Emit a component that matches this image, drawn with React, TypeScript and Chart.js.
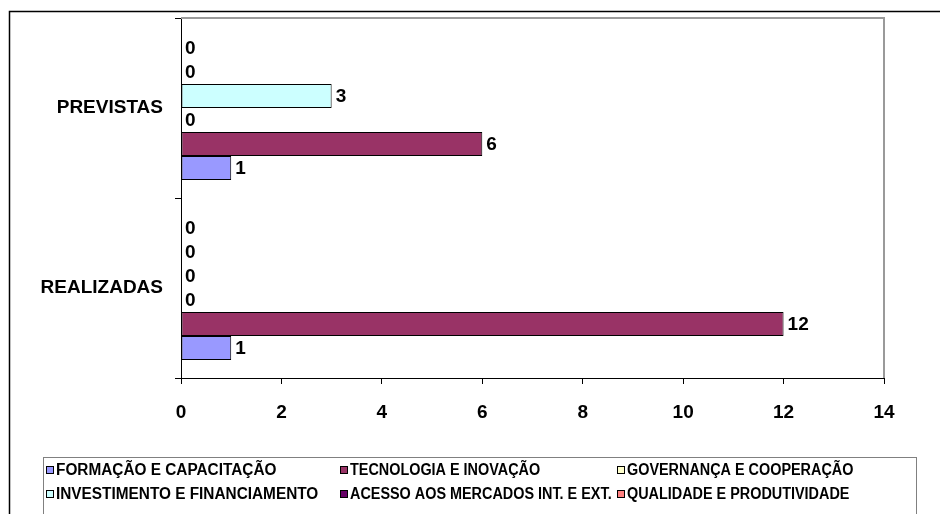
import React, { useEffect, useRef } from "react";
import { Chart, registerables } from "chart.js";

Chart.register(...registerables);

// Categories (top to bottom as drawn)
const categories = ["PREVISTAS", "REALIZADAS"];

// Series values, one per category [PREVISTAS, REALIZADAS]
const formacao = [1, 1];
const tecnologia = [6, 12];
const governanca = [0, 0];
const investimento = [3, 0];
const acesso = [0, 0];
const qualidade = [0, 0];

// Series labels (legend order)
const seriesLabels = [
  "FORMAÇÃO E CAPACITAÇÃO",
  "TECNOLOGIA E INOVAÇÃO",
  "GOVERNANÇA E COOPERAÇÃO",
  "INVESTIMENTO E FINANCIAMENTO",
  "ACESSO AOS MERCADOS INT. E EXT.",
  "QUALIDADE E PRODUTIVIDADE",
];
const seriesValues = [formacao, tecnologia, governanca, investimento, acesso, qualidade];
const seriesColors = ["#9999FF", "#993366", "#FFFFCC", "#CCFFFF", "#660066", "#FF8080"];

// Value axis ticks
const xMin = 0;
const xMax = 14;
const xStep = 2;

const FONT = "'Liberation Sans', Arial, sans-serif";

const framePlugin = {
  id: "frame",
  beforeDraw(chart: any) {
    const ctx = chart.ctx;
    ctx.save();
    ctx.fillStyle = "#FFFFFF";
    ctx.fillRect(0, 0, chart.width, chart.height);
    ctx.strokeStyle = "#000000";
    ctx.lineWidth = 1.5;
    ctx.strokeRect(9.5, 11.5, 1200, 1000);
    ctx.restore();
  },
  afterDraw(chart: any) {
    const ctx = chart.ctx;
    const a = chart.chartArea;
    ctx.save();
    // plot area top and right border (grey)
    ctx.strokeStyle = "#9A9A9A";
    ctx.lineWidth = 2;
    ctx.beginPath();
    ctx.moveTo(a.left, a.top);
    ctx.lineTo(a.right, a.top);
    ctx.lineTo(a.right, a.bottom);
    ctx.stroke();
    // legend box
    ctx.strokeStyle = "#808080";
    ctx.lineWidth = 1;
    ctx.strokeRect(43.5, 457.5, 873, 100);
    const colX = [46, 340, 617];
    const rowY = [470, 494];
    ctx.font = `bold 16px ${FONT}`;
    ctx.textBaseline = "middle";
    ctx.textAlign = "left";
    const ds = chart.data.datasets;
    const ordered = ds.slice().reverse();
    ordered.forEach((d: any, i: number) => {
      const x = colX[i % 3];
      const y = rowY[Math.floor(i / 3)];
      ctx.fillStyle = d.backgroundColor;
      ctx.fillRect(x + 0.5, y - 3.5, 7, 7);
      ctx.strokeStyle = "#000000";
      ctx.lineWidth = 1;
      ctx.strokeRect(x + 0.5, y - 3.5, 7, 7);
      ctx.fillStyle = "#000000";
      ctx.save();
      ctx.translate(x + 10, y + 1);
      ctx.scale(i % 3 === 0 ? 0.96 : 0.9, 1);
      ctx.fillText(d.label, 0, 0);
      ctx.restore();
    });
    ctx.restore();
  },
};

const labelPlugin = {
  id: "barLabels",
  afterDatasetsDraw(chart: any) {
    const ctx = chart.ctx;
    ctx.save();
    ctx.font = `bold 19px ${FONT}`;
    ctx.fillStyle = "#000000";
    ctx.textAlign = "left";
    ctx.textBaseline = "middle";
    chart.data.datasets.forEach((d: any, di: number) => {
      const meta = chart.getDatasetMeta(di);
      meta.data.forEach((el: any, i: number) => {
        const v = d.data[i];
        ctx.fillText(String(v), el.x + 4, el.y + 1);
      });
    });
    ctx.restore();
  },
};

export default function App() {
  const ref = useRef<HTMLCanvasElement | null>(null);

  useEffect(() => {
    if (!ref.current) return;
    // datasets ordered top-to-bottom within each category group
    const order = [5, 4, 3, 2, 1, 0];
    const datasets = order.map((k) => ({
      label: seriesLabels[k],
      data: seriesValues[k],
      backgroundColor: seriesColors[k],
      borderColor: "#000000",
      borderWidth: 1,
      borderSkipped: false,
      categoryPercentage: 0.8,
      barPercentage: 1.0,
    }));
    const chart = new Chart(ref.current, {
      type: "bar",
      data: { labels: categories, datasets },
      options: {
        indexAxis: "y",
        animation: false,
        responsive: false,
        devicePixelRatio: 1,
        layout: { padding: { top: 18, right: 56, left: 0, bottom: 0 } },
        plugins: {
          legend: { display: false },
          tooltip: { enabled: false },
        },
        scales: {
          x: {
            min: xMin,
            max: xMax,
            ticks: {
              stepSize: xStep,
              color: "#000000",
              font: { family: FONT, size: 19, weight: "bold" },
              padding: 17,
            },
            grid: {
              drawOnChartArea: false,
              drawTicks: true,
              tickLength: 6,
              color: "#000000",
            },
            border: { color: "#000000", width: 1 },
            afterFit: (s: any) => {
              s.height = 136;
              s.paddingLeft = 0;
              s.paddingRight = 0;
            },
          },
          y: {
            offset: true,
            ticks: {
              color: "#000000",
              font: { family: FONT, size: 19, weight: "bold" },
              padding: 12,
            },
            grid: {
              offset: true,
              drawOnChartArea: false,
              drawTicks: true,
              tickLength: 6,
              color: "#000000",
            },
            border: { color: "#000000", width: 1 },
            afterFit: (s: any) => {
              s.width = 181;
              s.paddingTop = 0;
              s.paddingBottom = 0;
            },
          },
        },
      } as any,
      plugins: [framePlugin, labelPlugin],
    });
    return () => chart.destroy();
  }, []);

  return (
    <div style={{ position: "fixed", left: 0, top: 0, width: 940, height: 514, background: "#fff" }}>
      <canvas ref={ref} width={940} height={514} style={{ width: 940, height: 514, display: "block" }} />
    </div>
  );
}
